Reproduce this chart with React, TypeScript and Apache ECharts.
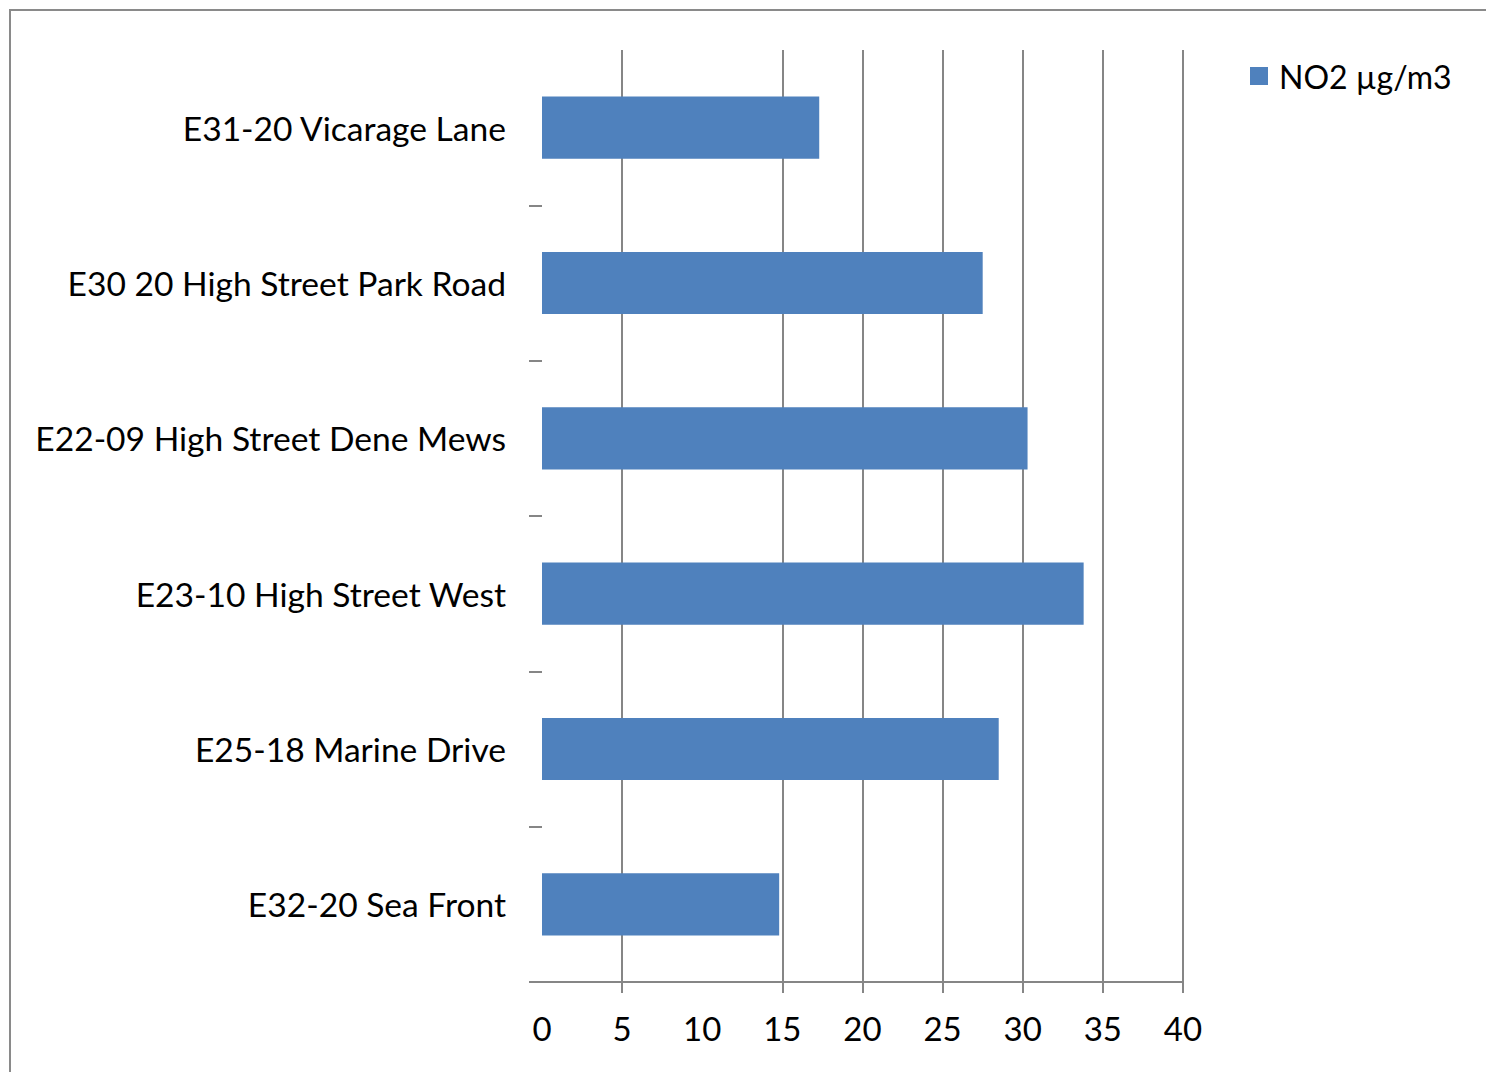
import React, { useEffect, useRef } from "react";
import * as echarts from "echarts";

// Monitoring sites, top to bottom
const sites = [
  "E31-20 Vicarage Lane",
  "E30 20 High Street Park Road",
  "E22-09 High Street Dene Mews",
  "E23-10 High Street West",
  "E25-18 Marine Drive",
  "E32-20 Sea Front",
];

// Annual mean NO2 per site
const no2Values = [17.3, 27.5, 30.3, 33.8, 28.5, 14.8];

const seriesName = "NO2 µg/m3";

// Value axis positions that carry a tick mark and a grid line
const tickMarks = [5, 15, 20, 25, 30, 35, 40];

const GRAY = "#868686";
const FONT = "Lato, 'Noto Sans', sans-serif";

export default function App() {
  const ref = useRef<HTMLDivElement>(null);

  useEffect(() => {
    if (!ref.current) return;
    const chart = echarts.init(ref.current, null, { renderer: "svg" });

    chart.setOption({
      animation: false,
      backgroundColor: "#ffffff",
      graphic: [
        {
          type: "rect",
          shape: { x: 10, y: 10, width: 1700, height: 1300 },
          style: { fill: "none", stroke: "#8a8a8a", lineWidth: 2 },
          silent: true,
          z: 0,
        },
      ],
      legend: {
        left: 1245,
        top: 55,
        itemWidth: 18,
        itemHeight: 18,
        icon: "rect",
        data: [seriesName],
        textStyle: {
          fontFamily: FONT,
          fontSize: 32,
          color: "#000",
          padding: [0, 0, 0, 6],
        },
      },
      grid: {
        left: 542,
        right: 303,
        top: 50,
        bottom: 90,
        containLabel: false,
      },
      xAxis: {
        type: "value",
        min: 0,
        max: 40,
        interval: 5,
        axisLine: { show: true, lineStyle: { color: GRAY, width: 2 } },
        axisTick: {
          show: true,
          length: 11,
          customValues: tickMarks,
          lineStyle: { color: GRAY, width: 2 },
        },
        axisLabel: {
          fontFamily: FONT,
          fontSize: 33,
          color: "#000",
          margin: 29,
        },
        splitLine: {
          show: true,
          lineStyle: { color: GRAY, width: 2 },
        },
      },
      yAxis: {
        type: "category",
        data: sites,
        inverse: true,
        axisLine: { show: false },
        axisTick: {
          show: true,
          length: 13,
          interval: (idx: number) => idx !== 0,
          lineStyle: { color: GRAY, width: 2 },
        },
        axisLabel: {
          fontFamily: FONT,
          fontSize: 33.6,
          color: "#000",
          margin: 36,
        },
        splitLine: { show: false },
      },
      series: [
        {
          name: seriesName,
          type: "bar",
          data: no2Values,
          barCategoryGap: "60%",
          itemStyle: { color: "#4F81BD" },
          z: 3,
        },
      ],
    });

    return () => chart.dispose();
  }, []);

  return (
    <div
      ref={ref}
      style={{
        position: "absolute",
        left: 0,
        top: 0,
        width: 1486,
        height: 1072,
      }}
    />
  );
}
